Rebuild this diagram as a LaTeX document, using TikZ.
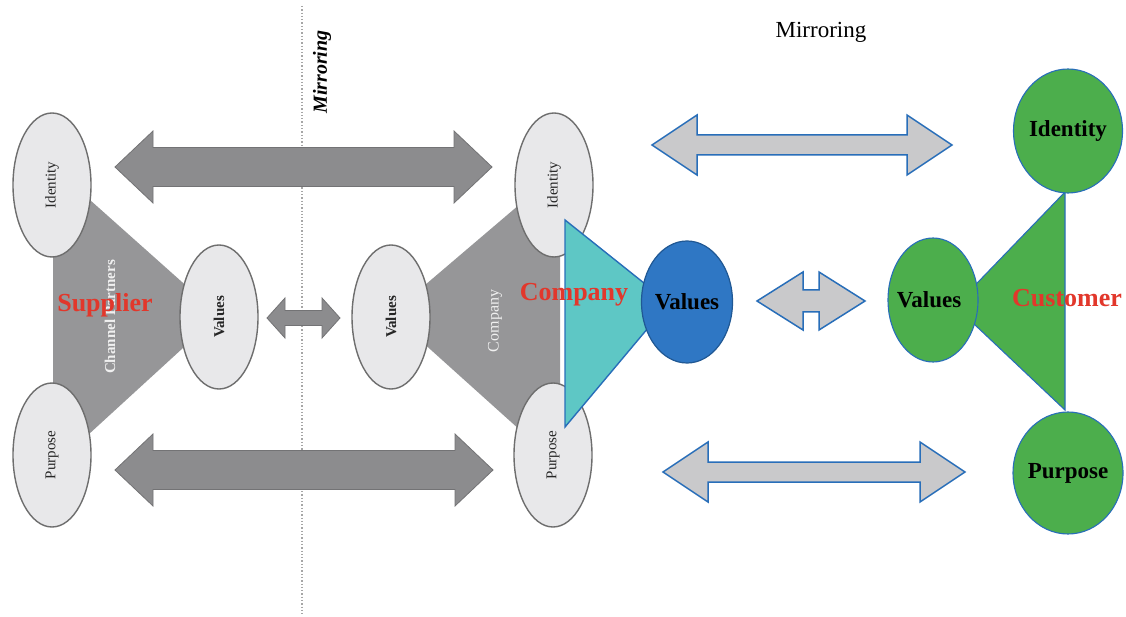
\documentclass[tikz,border=0pt]{standalone}
\usepackage{fontspec}
\setmainfont{Liberation Serif}
\usetikzlibrary{shapes.geometric}
\definecolor{arrdark}{RGB}{140,140,142}
\definecolor{arrdarkline}{RGB}{115,115,117}
\definecolor{trigray}{RGB}{150,150,152}
\definecolor{ellfill}{RGB}{232,232,234}
\definecolor{ellline}{RGB}{110,110,110}
\definecolor{cyanfill}{RGB}{94,199,197}
\definecolor{blueline}{RGB}{40,110,185}
\definecolor{bluefill}{RGB}{47,119,196}
\definecolor{greenfill}{RGB}{76,174,76}
\definecolor{lightarr}{RGB}{201,201,203}
\definecolor{redlbl}{RGB}{226,55,43}
\newcommand\dblarr[7]{%
 \draw[#1] (#2,#4) -- ({#2+#5},{#4-#6}) -- ({#2+#5},{#4-#7}) -- ({#3-#5},{#4-#7}) -- ({#3-#5},{#4-#6}) -- (#3,#4) -- ({#3-#5},{#4+#6}) -- ({#3-#5},{#4+#7}) -- ({#2+#5},{#4+#7}) -- ({#2+#5},{#4+#6}) -- cycle;}
\tikzset{
 grayell/.style={ellipse, draw=ellline, fill=ellfill, line width=1.4pt, minimum width=78pt, minimum height=144pt, inner sep=0pt},
 small/.style={font=\fontsize{15}{15}\selectfont, rotate=90, text=black!85},
 smallb/.style={font=\bfseries\fontsize{15}{15}\selectfont, rotate=90, text=black!85},
 whitelbl/.style={font=\bfseries\fontsize{15}{15}\selectfont, rotate=90, text=white!88!gray},
 redtxt/.style={font=\bfseries\fontsize{26}{26}\selectfont, text=redlbl},
 blktxt/.style={font=\bfseries\fontsize{23}{23}\selectfont, text=black},
 greenell/.style={ellipse, draw=blueline, fill=greenfill, line width=1.1pt, inner sep=0pt},
 darkarrow/.style={fill=arrdark, draw=arrdarkline, line width=0.8pt, line join=miter},
 lightarrow/.style={fill=lightarr, draw=blueline, line width=1.5pt, line join=miter},
}
\begin{document}
\begin{tikzpicture}[x=1pt,y=-1pt]
\useasboundingbox (0,0) rectangle (1126,617);
\fill[white] (0,0) rectangle (1126,617);
% dotted divider
\coordinate (dtop) at (302,6);
\coordinate (dbot) at (302,614);
\draw[gray!70, line width=1.3pt, dotted] (dtop) -- (dbot);
\node[font=\bfseries\itshape\fontsize{20}{20}\selectfont, rotate=90] (mirv) at (322,72) {Mirroring};
\node[font=\fontsize{23}{23}\selectfont] (mirt) at (821,32) {Mirroring};

% supplier group
\fill[trigray] (53,167) -- (219,315) -- (53,467) -- cycle;
\node[grayell] (sid) at (52,185) {};
\node[grayell] (spu) at (52,455) {};
\node[grayell] (sva) at (219,317) {};
\node[small] at (sid) {Identity};
\node[small] at (spu) {Purpose};
\node[smallb] at (sva) {Values};
\node[whitelbl] (chp) at (110,317) {Channel Partners};
\node[redtxt] (sup) at (105,305) {Supplier};

% company group (gray)
\fill[trigray] (560,170) -- (391,314) -- (560,466) -- cycle;
\node[grayell] (cid) at (554,185) {};
\node[grayell] (cpu) at (553,455) {};
\node[grayell] (cva) at (391,317) {};
\node[small] at (cid) {Identity};
\node[small] at (cpu) {Purpose};
\node[smallb] at (cva) {Values};
\node[font=\fontsize{16}{16}\selectfont, rotate=90, text=white!88!gray] (cmpw) at (495,321) {Company};

% company (cyan)
\draw[fill=cyanfill, draw=blueline, line width=1.4pt, line join=miter] (565,220) -- (669,303) -- (565,427) -- cycle;
\node[ellipse, draw=blueline!80!black, fill=bluefill, line width=1.2pt, minimum width=91pt, minimum height=122pt, inner sep=0pt] (bva) at (687,302) {};
\node[blktxt] at (bva) {Values};
\node[redtxt] (cmp) at (574,295) {Company};

% customer group
\draw[fill=greenfill, draw=blueline, line width=1.1pt] (1065,192) -- (955,306) -- (1065,410) -- cycle;
\node[greenell, minimum width=109pt, minimum height=124pt] (gid) at (1068,131) {};
\node[greenell, minimum width=110pt, minimum height=122pt] (gpu) at (1068,473) {};
\node[greenell, minimum width=90pt, minimum height=124pt] (gva) at (933,300) {};
\node[blktxt] at (gid) {Identity};
\node[blktxt] at (gpu) {Purpose};
\node[blktxt] at ([xshift=-4pt]gva.center) {Values};
\node[redtxt] (cus) at (1067,298) {Customer};

% gray double arrows
\dblarr{darkarrow}{115}{492}{167}{38}{36}{19.5}
\dblarr{darkarrow}{115}{493}{470}{38}{36}{19.5}
\dblarr{darkarrow}{267}{340}{318}{18}{20}{7.5}
% light double arrows
\dblarr{lightarrow}{652}{952}{145}{45}{30}{10}
\dblarr{lightarrow}{663}{965}{472}{45}{30}{10}
\dblarr{lightarrow}{757}{865}{301}{46}{29}{11}
\end{tikzpicture}
\end{document}
